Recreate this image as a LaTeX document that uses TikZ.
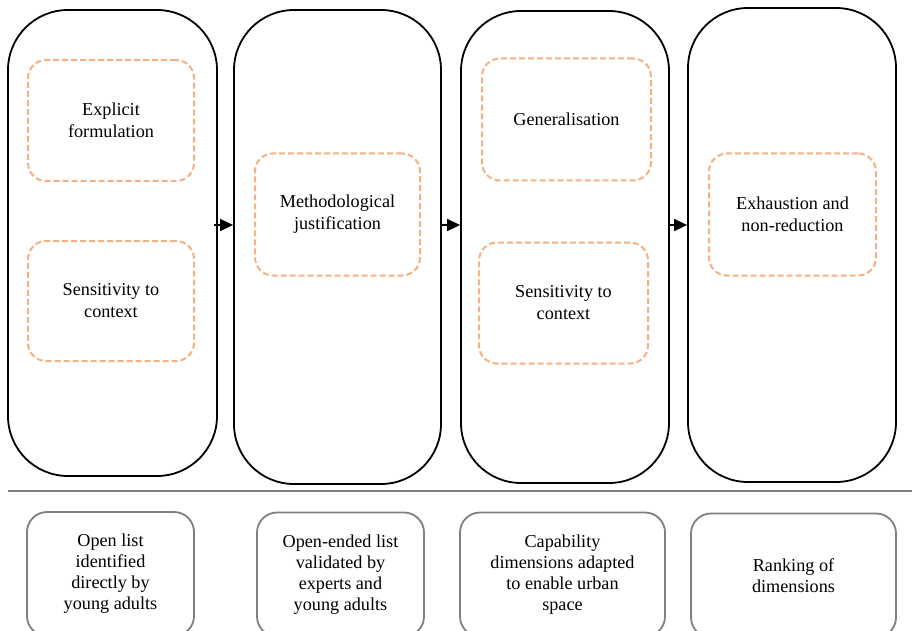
\documentclass[tikz,border=0pt]{standalone}
\usepackage{fontspec}
\setmainfont{Liberation Serif}
\usetikzlibrary{arrows.meta}
\definecolor{dashorange}{HTML}{F4B183}
\definecolor{boxgray}{HTML}{7F7F7F}
\tikzset{
  bigbox/.style={draw=black, line width=1.8pt, rounded corners=60pt, rectangle, inner sep=0pt},
  critbox/.style={draw=dashorange, line width=2pt, dash pattern=on 6pt off 3pt, rounded corners=18pt, rectangle, align=center, inner sep=0pt, text=black, font=\fontsize{18.2}{22}\selectfont},
  listbox/.style={draw=boxgray, line width=1.8pt, rounded corners=20pt, rectangle, align=center, inner sep=0pt, text=black, font=\fontsize{18.2}{21}\selectfont},
  arr/.style={line width=1.5pt, -{Triangle[length=13pt,width=12pt]}},
  sepline/.style={draw=boxgray, line width=1.6pt}
}
\begin{document}
\begin{tikzpicture}[x=1pt,y=-1pt]
\useasboundingbox (0,0) rectangle (912,631);
\clip (0,0) rectangle (912,631);
% big columns
\node[bigbox, minimum width=209pt, minimum height=466pt] (c1) at (112.5,243) {};
\node[bigbox, minimum width=207pt, minimum height=474pt] (c2) at (337.5,247) {};
\node[bigbox, minimum width=208pt, minimum height=472pt] (c3) at (565,247) {};
\node[bigbox, minimum width=208pt, minimum height=474pt] (c4) at (792,245) {};
% criteria boxes
\node[critbox, minimum width=166pt, minimum height=121pt] (e1) at (111,120.5) {Explicit\\formulation};
\node[critbox, minimum width=166pt, minimum height=120pt] (s1) at (111,301) {Sensitivity to\\context};
\node[critbox, minimum width=165pt, minimum height=122pt] (m2) at (337.5,214.5) {Methodological\\justification};
\node[critbox, minimum width=169pt, minimum height=122pt] (g3) at (566.5,119.5) {Generalisation};
\node[critbox, minimum width=169pt, minimum height=121pt] (s3) at (563.5,303) {Sensitivity to\\context};
\node[critbox, minimum width=167pt, minimum height=122pt] (x4) at (792.5,214.5) {Exhaustion and\\non-reduction};
% arrows
\draw[arr] ([xshift=-4pt]c1.east |- 0,225) -- (c2.west |- 0,225);
\draw[arr] ([xshift=-1pt]c2.east |- 0,225) -- (c3.west |- 0,225);
\draw[arr] ([xshift=-1pt]c3.east |- 0,225) -- (c4.west |- 0,225);
% separator
\coordinate (sepL) at (8,491);
\coordinate (sepR) at (912,491);
\draw[sepline] (sepL) -- (sepR);
% bottom list boxes
\node[listbox, minimum width=167pt, minimum height=124pt] (b1) at (110.5,574) {Open list\\identified\\directly by\\young adults};
\node[listbox, minimum width=167pt, minimum height=124pt] (b2) at (340.5,574.5) {Open-ended list\\validated by\\experts and\\young adults};
\node[listbox, minimum width=205pt, minimum height=124pt] (b3) at (562.5,574.5) {Capability\\dimensions adapted\\to enable urban\\space};
\node[listbox, minimum width=205pt, minimum height=124pt] (b4) at (793.5,575.5) {Ranking of\\dimensions};
\end{tikzpicture}
\end{document}
